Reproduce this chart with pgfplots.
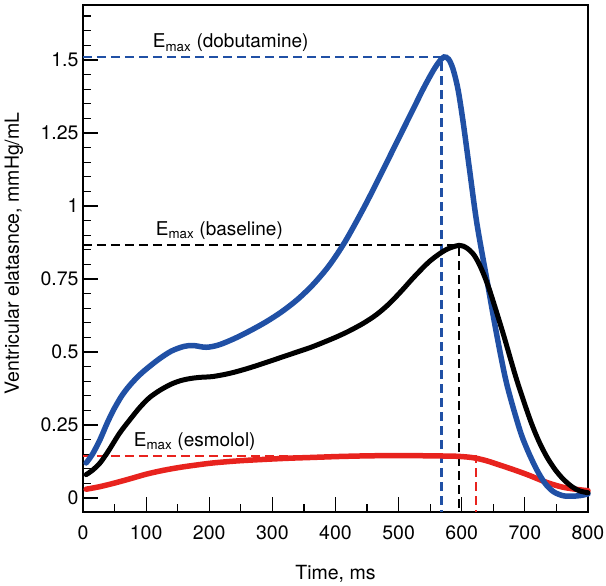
\documentclass[border=0pt]{standalone}
\usepackage{fontspec}
\setmainfont{TeX Gyre Heros}
\usepackage{pgfplots}
\pgfplotsset{compat=1.18}
\definecolor{cblue}{RGB}{32,80,165}
\definecolor{cred}{RGB}{232,35,30}
\begin{document}
\begin{tikzpicture}
\begin{axis}[
 name=ax,
 scale only axis, width=505bp, height=507bp,
 xmin=0, xmax=800, ymin=-0.048, ymax=1.688,
 axis line style={line width=2.2bp},
 tick align=inside, tick pos=left,
 xtick={0,100,...,800},
 minor xtick={50,150,250,350,450,550,650,750},
 ytick={0,0.25,0.5,0.75,1,1.25,1.5},
 yticklabels={0,0.25,0.5,0.75,1,1.25,1.5},
 minor ytick={0.05,0.1,0.15,0.2,0.3,0.35,0.4,0.45,0.55,0.6,0.65,0.7,0.8,0.85,0.9,0.95,1.05,1.1,1.15,1.2,1.3,1.35,1.4,1.45,1.55,1.6,1.65},
 major tick length=15bp, minor tick length=8bp,
 every tick/.style={line width=1.2bp, black},
 tick label style={font=\fontsize{19.5bp}{22bp}\selectfont},
 xticklabel style={yshift=-10bp},
 yticklabel style={xshift=-1bp},
 /pgf/number format/assume math mode=true,
 label style={font=\fontsize{19.5bp}{22bp}\selectfont},
 xlabel={Time, ms},
 ylabel={Ventricular elatasnce, mmHg/mL},
 xlabel style={at={(axis description cs:0.5,-0.122)}, anchor=center},
 ylabel style={at={(axis description cs:-0.137,0.51)}, anchor=center, rotate=0},
 clip=false,
]
% dashed guide lines
\addplot[cblue, line width=2.2bp, dash pattern=on 9bp off 5bp] coordinates {(0,1.51) (568,1.51) (568,-0.048)};
\addplot[black, line width=2.2bp, dash pattern=on 9bp off 5bp] coordinates {(0,0.865) (596,0.865) (596,-0.048)};
\addplot[cred, line width=2.2bp, dash pattern=on 9bp off 5bp] coordinates {(0,0.145) (623,0.145) (623,-0.048)};
% esmolol
\addplot[cred, line width=5.5bp, smooth, line cap=round] coordinates {
(5,0.03) (25,0.038) (48,0.05) (75,0.066) (101,0.082) (128,0.095) (154,0.105) (180,0.113) (206,0.12) (245,0.127) (286,0.132) (325,0.136) (365,0.139) (405,0.142) (444,0.144) (480,0.145) (520,0.145) (560,0.144) (590,0.143) (610,0.14) (623,0.136) (640,0.127) (660,0.113) (682,0.097) (705,0.079) (735,0.053) (760,0.037) (787,0.028) (800,0.025)};
% dobutamine
\addplot[cblue, line width=5.5bp, smooth, line cap=round] coordinates {
(5,0.12) (15,0.15) (27,0.2) (38,0.255) (48,0.300) (60,0.345) (70,0.375) (80,0.400) (90,0.422) (100,0.441) (120,0.475) (140,0.503) (160,0.519) (175,0.522) (195,0.516) (215,0.524) (240,0.546) (265,0.573) (290,0.603) (315,0.638) (340,0.68) (365,0.732) (390,0.796) (415,0.877) (444,0.99) (470,1.10) (497,1.218) (520,1.318) (540,1.405) (555,1.464) (565,1.496) (572,1.51) (579,1.503) (586,1.47) (594,1.40) (602,1.29) (612,1.13) (624,0.94) (640,0.745) (655,0.564) (671,0.393) (692,0.233) (705,0.16) (719,0.096) (732,0.05) (745,0.022) (760,0.008) (775,0.006) (790,0.009) (800,0.014)};
% baseline
\addplot[black, line width=5bp, smooth, line cap=round] coordinates {
(5,0.08) (15,0.095) (27,0.12) (40,0.16) (58,0.222) (75,0.27) (90,0.31) (105,0.343) (122,0.369) (140,0.39) (155,0.402) (170,0.409) (185,0.413) (206,0.416) (233,0.427) (260,0.443) (286,0.461) (312,0.48) (338,0.499) (360,0.515) (380,0.532) (400,0.55) (420,0.57) (444,0.598) (465,0.628) (485,0.665) (505,0.71) (525,0.758) (550,0.812) (575,0.85) (596,0.865) (608,0.856) (618,0.836) (626,0.808) (634,0.77) (642,0.725) (650,0.672) (666,0.56) (687,0.405) (708,0.27) (722,0.195) (735,0.14) (748,0.097) (761,0.064) (775,0.038) (787,0.024) (800,0.018)};
% annotations
\node[anchor=base, font=\fontsize{19bp}{21bp}\selectfont] at (axis cs:234,1.541) {E\textsubscript{max} (dobutamine)};
\node[anchor=base, font=\fontsize{19bp}{21bp}\selectfont] at (axis cs:216,0.90) {E\textsubscript{max} (baseline)};
\node[anchor=base, font=\fontsize{19bp}{21bp}\selectfont] at (axis cs:177,0.176) {E\textsubscript{max} (esmolol)};
\end{axis}
\pgfresetboundingbox
\path[use as bounding box] (ax.south west) ++(-83bp,-74bp) rectangle ++(606bp,586bp);
\end{tikzpicture}
\end{document}
